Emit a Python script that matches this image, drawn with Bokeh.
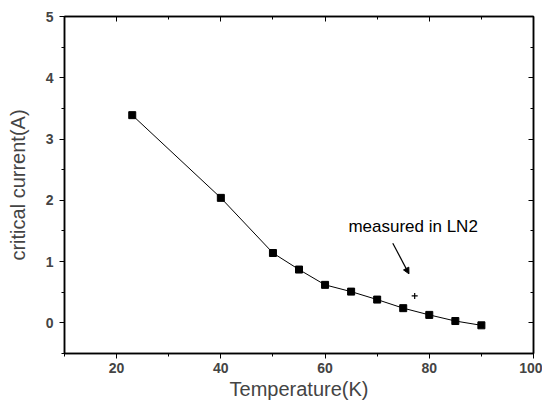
from bokeh.plotting import figure
from bokeh.models import LinearAxis, Range1d, Label, Arrow, NormalHead, FixedTicker
from bokeh.embed import file_html
from bokeh.resources import INLINE

temperature = [23, 40, 50, 55, 60, 65, 70, 75, 80, 85, 90]
critical_current = [3.39, 2.04, 1.14, 0.87, 0.62, 0.51, 0.38, 0.24, 0.13, 0.03, -0.04]
ln2_temp = [77.2]
ln2_current = [0.44]
x_ticks = [20, 40, 60, 80, 100]
x_minor = [10, 30, 50, 70, 90]
y_ticks = [0, 1, 2, 3, 4, 5]
y_minor = [-0.5, 0.5, 1.5, 2.5, 3.5, 4.5]
annotation_text = "measured in LN2"

FONT = "Liberation Sans"

p = figure(width=542, height=402, output_backend="svg", toolbar_location=None,
           x_range=Range1d(10, 100), y_range=Range1d(-0.5, 5),
           min_border_left=64, min_border_right=9, min_border_top=16, min_border_bottom=40)
p.grid.visible = False
p.outline_line_color = "black"
p.outline_line_width = 1.5

for ax in (p.xaxis[0], p.yaxis[0]):
    ax.axis_line_width = 1.5
    ax.major_tick_in = 0
    ax.major_tick_out = 5
    ax.minor_tick_in = 0
    ax.minor_tick_out = 3
    ax.major_label_text_font = FONT
    ax.major_label_text_font_style = "bold"
    ax.major_label_text_font_size = "14px"
    ax.axis_label_text_font = FONT
    ax.axis_label_text_font_style = "normal"
    ax.axis_label_text_font_size = "20px"

p.xaxis[0].ticker = FixedTicker(ticks=x_ticks, minor_ticks=x_minor)
p.yaxis[0].ticker = FixedTicker(ticks=y_ticks, minor_ticks=y_minor)
p.xaxis[0].axis_label = "Temperature(K)"
p.yaxis[0].axis_label = "critical current(A)"
p.xaxis[0].major_label_standoff = 4
p.yaxis[0].major_label_standoff = 6
p.xaxis[0].axis_label_standoff = 2
p.yaxis[0].axis_label_standoff = 14

top = LinearAxis(ticker=FixedTicker(ticks=x_ticks, minor_ticks=x_minor),
                 major_label_overrides={t: "" for t in x_ticks})
right = LinearAxis(ticker=FixedTicker(ticks=y_ticks, minor_ticks=y_minor),
                   major_label_overrides={t: "" for t in y_ticks})
for ax in (top, right):
    ax.major_label_standoff = 0
    ax.major_label_text_font_size = "1px"
    ax.major_tick_in = 5
    ax.major_tick_out = 0
    ax.minor_tick_in = 3
    ax.minor_tick_out = 0
    ax.axis_line_width = 1.5
p.add_layout(top, "above")
p.add_layout(right, "right")

p.line(temperature, critical_current, line_color="black", line_width=1)
p.scatter(temperature, critical_current, marker="square", size=7, fill_color="black", line_color="black")
p.scatter(ln2_temp, ln2_current, marker="cross", size=6, line_color="black", line_width=1.2)

p.add_layout(Label(x=76.9, y=1.58, text=annotation_text, text_align="center", text_baseline="middle",
                   text_font=FONT, text_font_size="17px", text_color="black"))
p.add_layout(Arrow(x_start=73.0, y_start=1.30, x_end=76.1, y_end=0.80,
                   line_color="black", line_width=1.2,
                   end=NormalHead(size=6, fill_color="black", line_color="black")))

open("out.html", "w").write(file_html(p, INLINE))
